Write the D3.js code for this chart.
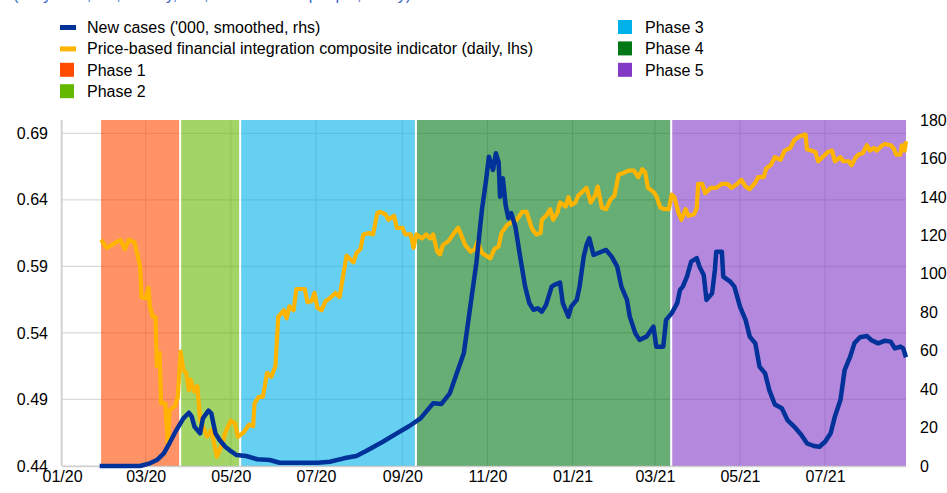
<!DOCTYPE html>
<html>
<head>
<meta charset="utf-8">
<script src="https://cdn.jsdelivr.net/npm/d3@7"></script>
<style>
  html, body { margin: 0; padding: 0; background: #fff; }
  svg { display: block; font-family: "Liberation Sans", Arial, sans-serif; }
</style>
</head>
<body>
<svg id="chart" width="947" height="493"></svg>
<script>
// ---------- DATA ----------
const ciDates = ["2020-01-29","2020-02-02","2020-02-04","2020-02-12","2020-02-15","2020-02-18","2020-02-22","2020-02-26","2020-02-27","2020-03-01","2020-03-03","2020-03-04","2020-03-06","2020-03-08","2020-03-09","2020-03-11","2020-03-12","2020-03-15","2020-03-17","2020-03-18","2020-03-22","2020-03-24","2020-03-26","2020-03-28","2020-03-30","2020-04-01","2020-04-02","2020-04-05","2020-04-07","2020-04-09","2020-04-14","2020-04-17","2020-04-21","2020-04-25","2020-04-27","2020-05-01","2020-05-04","2020-05-06","2020-05-10","2020-05-14","2020-05-17","2020-05-18","2020-05-21","2020-05-24","2020-05-27","2020-05-30","2020-06-02","2020-06-04","2020-06-08","2020-06-10","2020-06-12","2020-06-15","2020-06-17","2020-06-23","2020-06-25","2020-06-28","2020-06-30","2020-07-02","2020-07-05","2020-07-08","2020-07-11","2020-07-15","2020-07-18","2020-07-21","2020-07-23","2020-07-28","2020-07-30","2020-08-02","2020-08-04","2020-08-08","2020-08-11","2020-08-14","2020-08-16","2020-08-20","2020-08-22","2020-08-26","2020-08-28","2020-09-01","2020-09-03","2020-09-07","2020-09-09","2020-09-11","2020-09-15","2020-09-18","2020-09-21","2020-09-23","2020-09-26","2020-09-28","2020-09-30","2020-10-04","2020-10-08","2020-10-11","2020-10-13","2020-10-16","2020-10-20","2020-10-23","2020-10-25","2020-10-28","2020-10-31","2020-11-03","2020-11-06","2020-11-09","2020-11-11","2020-11-15","2020-11-18","2020-11-22","2020-11-26","2020-11-29","2020-12-03","2020-12-06","2020-12-09","2020-12-10","2020-12-13","2020-12-16","2020-12-18","2020-12-21","2020-12-23","2020-12-27","2020-12-29","2020-12-31","2021-01-03","2021-01-05","2021-01-09","2021-01-11","2021-01-14","2021-01-17","2021-01-19","2021-01-22","2021-01-25","2021-01-28","2021-01-31","2021-02-03","2021-02-06","2021-02-10","2021-02-14","2021-02-17","2021-02-20","2021-02-22","2021-02-24","2021-02-28","2021-03-02","2021-03-05","2021-03-08","2021-03-11","2021-03-13","2021-03-15","2021-03-18","2021-03-20","2021-03-23","2021-03-25","2021-03-29","2021-03-31","2021-04-01","2021-04-04","2021-04-06","2021-04-10","2021-04-14","2021-04-18","2021-04-22","2021-04-25","2021-04-29","2021-05-02","2021-05-05","2021-05-08","2021-05-12","2021-05-14","2021-05-18","2021-05-20","2021-05-23","2021-05-26","2021-05-30","2021-06-02","2021-06-06","2021-06-09","2021-06-13","2021-06-17","2021-06-18","2021-06-21","2021-06-24","2021-06-26","2021-06-30","2021-07-03","2021-07-06","2021-07-08","2021-07-12","2021-07-14","2021-07-18","2021-07-20","2021-07-23","2021-07-25","2021-07-28","2021-07-31","2021-08-02","2021-08-05","2021-08-07","2021-08-11","2021-08-13","2021-08-17","2021-08-19","2021-08-21","2021-08-24","2021-08-25","2021-08-27","2021-08-28"];
const ciValues = [0.610,0.604,0.605,0.610,0.603,0.610,0.608,0.590,0.567,0.566,0.574,0.560,0.552,0.552,0.515,0.525,0.487,0.487,0.455,0.482,0.485,0.492,0.526,0.512,0.510,0.497,0.505,0.496,0.500,0.475,0.462,0.467,0.447,0.457,0.465,0.474,0.472,0.462,0.465,0.471,0.470,0.487,0.492,0.492,0.510,0.507,0.515,0.552,0.557,0.551,0.560,0.557,0.573,0.573,0.563,0.564,0.570,0.559,0.557,0.564,0.566,0.570,0.567,0.586,0.598,0.593,0.600,0.603,0.614,0.615,0.614,0.630,0.631,0.629,0.625,0.628,0.619,0.619,0.614,0.614,0.604,0.614,0.611,0.614,0.611,0.614,0.601,0.599,0.606,0.609,0.615,0.619,0.614,0.606,0.601,0.603,0.609,0.600,0.598,0.596,0.603,0.605,0.615,0.621,0.623,0.625,0.631,0.631,0.618,0.614,0.615,0.625,0.628,0.633,0.625,0.630,0.638,0.635,0.642,0.636,0.638,0.643,0.647,0.649,0.638,0.643,0.650,0.634,0.633,0.640,0.643,0.659,0.660,0.662,0.662,0.657,0.663,0.661,0.649,0.646,0.643,0.634,0.633,0.633,0.644,0.642,0.630,0.625,0.633,0.628,0.629,0.634,0.652,0.652,0.645,0.649,0.649,0.652,0.652,0.649,0.652,0.655,0.650,0.648,0.653,0.657,0.657,0.664,0.666,0.672,0.670,0.677,0.679,0.685,0.688,0.689,0.678,0.677,0.676,0.669,0.673,0.676,0.677,0.669,0.672,0.669,0.669,0.666,0.672,0.674,0.675,0.681,0.677,0.679,0.677,0.681,0.682,0.681,0.679,0.674,0.674,0.681,0.677,0.684];

const casesDates = ["2020-01-28","2020-02-26","2020-03-04","2020-03-09","2020-03-14","2020-03-18","2020-03-23","2020-03-28","2020-04-01","2020-04-03","2020-04-05","2020-04-09","2020-04-11","2020-04-15","2020-04-17","2020-04-20","2020-04-23","2020-04-27","2020-04-30","2020-05-05","2020-05-12","2020-05-20","2020-05-29","2020-06-05","2020-06-17","2020-07-02","2020-07-11","2020-07-21","2020-07-30","2020-08-06","2020-08-18","2020-08-28","2020-09-06","2020-09-14","2020-09-23","2020-09-29","2020-10-05","2020-10-10","2020-10-15","2020-10-19","2020-10-24","2020-10-28","2020-10-31","2020-11-02","2020-11-05","2020-11-07","2020-11-09","2020-11-10","2020-11-12","2020-11-14","2020-11-16","2020-11-18","2020-11-21","2020-11-24","2020-11-28","2020-12-01","2020-12-04","2020-12-07","2020-12-10","2020-12-13","2020-12-17","2020-12-19","2020-12-23","2020-12-25","2020-12-29","2020-12-31","2021-01-04","2021-01-06","2021-01-09","2021-01-11","2021-01-13","2021-01-16","2021-01-19","2021-01-25","2021-01-29","2021-02-02","2021-02-05","2021-02-09","2021-02-11","2021-02-15","2021-02-18","2021-02-23","2021-02-28","2021-03-02","2021-03-07","2021-03-09","2021-03-13","2021-03-17","2021-03-19","2021-03-21","2021-03-24","2021-03-27","2021-03-31","2021-04-02","2021-04-05","2021-04-07","2021-04-11","2021-04-13","2021-04-14","2021-04-18","2021-04-19","2021-04-24","2021-04-27","2021-05-01","2021-05-05","2021-05-08","2021-05-12","2021-05-15","2021-05-19","2021-05-22","2021-05-26","2021-05-31","2021-06-04","2021-06-09","2021-06-14","2021-06-18","2021-06-23","2021-06-27","2021-07-01","2021-07-05","2021-07-08","2021-07-12","2021-07-15","2021-07-19","2021-07-22","2021-07-26","2021-07-31","2021-08-03","2021-08-08","2021-08-13","2021-08-17","2021-08-20","2021-08-24","2021-08-26","2021-08-28"];
const casesValues = [0,0,1.4,3.1,6.6,11.8,18.7,24.8,27.7,25.7,20.4,17.0,24.8,28.8,27.4,17.0,13.5,10.0,8.3,5.7,5.2,3.5,3.1,1.7,1.7,1.7,2.2,4.0,5.2,7.8,12.6,17.0,20.8,24.8,32.6,32.3,37.8,48.2,58.6,79.4,105.5,133.2,148.8,160.9,154.0,162.7,158.0,140.1,149.7,135.8,128.9,131.5,124.5,110.7,93.3,84.7,81.2,82.0,80.3,83.8,93.3,94.2,95.4,84.7,77.7,82.9,86.4,93.3,108.9,115.0,118.5,109.8,110.7,112.4,108.9,103.7,93.3,86.4,77.7,69.0,65.6,67.3,72.5,62.1,62.1,76.0,79.4,84.7,91.6,93.3,98.5,106.3,108.1,103.7,99.4,86.4,89.9,102.0,111.5,111.5,98.5,95.9,93.3,82.9,76.0,67.3,63.8,51.7,48.2,39.5,32.0,30.0,23.9,20.4,16.1,11.8,10.4,10.0,12.6,17.0,25.7,34.3,49.9,56.9,63.8,67.0,67.6,65.6,63.8,65.2,64.7,61.2,62.1,61.2,56.6];

const phaseNames  = ["Phase 1","Phase 2","Phase 3","Phase 4","Phase 5"];
const phaseColors = ["#FF4B00","#65B800","#00B1EA","#007816","#8139C6"];
const phaseBounds = ["2020-01-29","2020-03-25","2020-05-07","2020-09-10","2021-03-12","2021-08-28"];

const leftTicks  = [0.44,0.49,0.54,0.59,0.64,0.69];
const rightTicks = [0,20,40,60,80,100,120,140,160,180];
const seriesNames = ["New cases ('000, smoothed, rhs)","Price-based financial integration composite indicator (daily, lhs)"];
const seriesColors = ["#003299","#FFB400"];
const subtitle = "(daily data, lhs; weekly, rhs; thousands of people, 7-day)";

// ---------- CHART ----------
const parse = d3.utcParse("%Y-%m-%d");
const svg = d3.select("#chart");
const L = 62, R = 906, T = 120, B = 466;

const x = d3.scaleUtc().domain([parse("2020-01-01"), parse("2021-08-28")]).range([L, R]);
const yL = d3.scaleLinear().domain([0.44, 0.70]).range([B, T]);
const yR = d3.scaleLinear().domain([0, 180]).range([B, T]);

// subtitle (cropped at top edge, as in the reference)
svg.append("text").attr("x", 13).attr("y", -0.5).attr("font-size", 16)
  .attr("fill", "#3a66c8").text(subtitle);

// gridlines
const xTicks = x.ticks(d3.utcMonth.every(2));
svg.append("g").selectAll("line").data(leftTicks).join("line")
  .attr("x1", L).attr("x2", R).attr("y1", d => yL(d)).attr("y2", d => yL(d))
  .attr("stroke", "#d9d9d9").attr("stroke-width", 1.2);
svg.append("g").selectAll("line").data(xTicks).join("line")
  .attr("x1", d => x(d)).attr("x2", d => x(d)).attr("y1", T).attr("y2", B)
  .attr("stroke", "#d9d9d9").attr("stroke-width", 1.2);

// phases
const bounds = phaseBounds.map(parse);
svg.append("g").selectAll("rect").data(phaseNames).join("rect")
  .attr("x", (d, i) => x(bounds[i]))
  .attr("width", (d, i) => x(bounds[i + 1]) - x(bounds[i]))
  .attr("y", T).attr("height", B - T)
  .attr("fill", (d, i) => phaseColors[i]).attr("fill-opacity", 0.6);
svg.append("g").selectAll("line").data(bounds.slice(1, 5)).join("line")
  .attr("x1", d => x(d) + 1).attr("x2", d => x(d) + 1).attr("y1", T).attr("y2", B)
  .attr("stroke", "#fff").attr("stroke-width", 2);

// axis lines
svg.append("line").attr("x1", L - 0.5).attr("x2", L - 0.5).attr("y1", T).attr("y2", B)
  .attr("stroke", "#d0d0d0").attr("stroke-width", 1.5);
svg.append("line").attr("x1", L).attr("x2", R).attr("y1", B + 0.5).attr("y2", B + 0.5)
  .attr("stroke", "#d0d0d0").attr("stroke-width", 1.5);

// axes
const axL = svg.append("g").attr("transform", `translate(${L},0)`)
  .call(d3.axisLeft(yL).tickValues(leftTicks).tickFormat(d3.format(".2f")).tickSize(0).tickPadding(14));
const axR = svg.append("g").attr("transform", `translate(${R},0)`)
  .call(d3.axisRight(yR).tickValues(rightTicks).tickSize(0).tickPadding(14));
const axX = svg.append("g").attr("transform", `translate(0,${B})`)
  .call(d3.axisBottom(x).tickValues(xTicks).tickFormat(d3.utcFormat("%m/%y")).tickSize(0).tickPadding(5));
[axL, axR, axX].forEach(g => {
  g.select(".domain").remove();
  g.selectAll("text").attr("font-size", 16).attr("fill", "#000")
    .attr("font-family", "'Liberation Sans', Arial, sans-serif");
});

// lines
const ciData = ciDates.map((d, i) => ({ date: parse(d), v: ciValues[i] }));
const casesData = casesDates.map((d, i) => ({ date: parse(d), v: casesValues[i] }));
svg.append("path").datum(ciData)
  .attr("d", d3.line().x(d => x(d.date)).y(d => yL(d.v)))
  .attr("fill", "none").attr("stroke", seriesColors[1]).attr("stroke-width", 4.2)
  .attr("stroke-linejoin", "round");
svg.append("path").datum(casesData)
  .attr("d", d3.line().x(d => x(d.date)).y(d => yR(d.v)))
  .attr("fill", "none").attr("stroke", seriesColors[0]).attr("stroke-width", 4.5)
  .attr("stroke-linejoin", "round");

// legend
const rowY = r => 27 + r * 21.4;
const leg = svg.append("g").attr("font-size", 16).attr("fill", "#000");
seriesNames.forEach((name, i) => {
  leg.append("rect").attr("x", 60).attr("y", rowY(i) - 2).attr("width", 16).attr("height", 5)
    .attr("fill", seriesColors[i]);
  leg.append("text").attr("x", 87).attr("y", rowY(i) + 6).text(name);
});
phaseNames.forEach((name, i) => {
  const col = i < 2 ? 0 : 1;
  const row = i < 2 ? i + 2 : i - 2;
  const sx = col === 0 ? 60 : 618;
  leg.append("rect").attr("x", sx).attr("y", rowY(row) - 7).attr("width", 14).attr("height", 14)
    .attr("fill", phaseColors[i]);
  leg.append("text").attr("x", sx + 27).attr("y", rowY(row) + 6).text(name);
});
</script>
</body>
</html>
